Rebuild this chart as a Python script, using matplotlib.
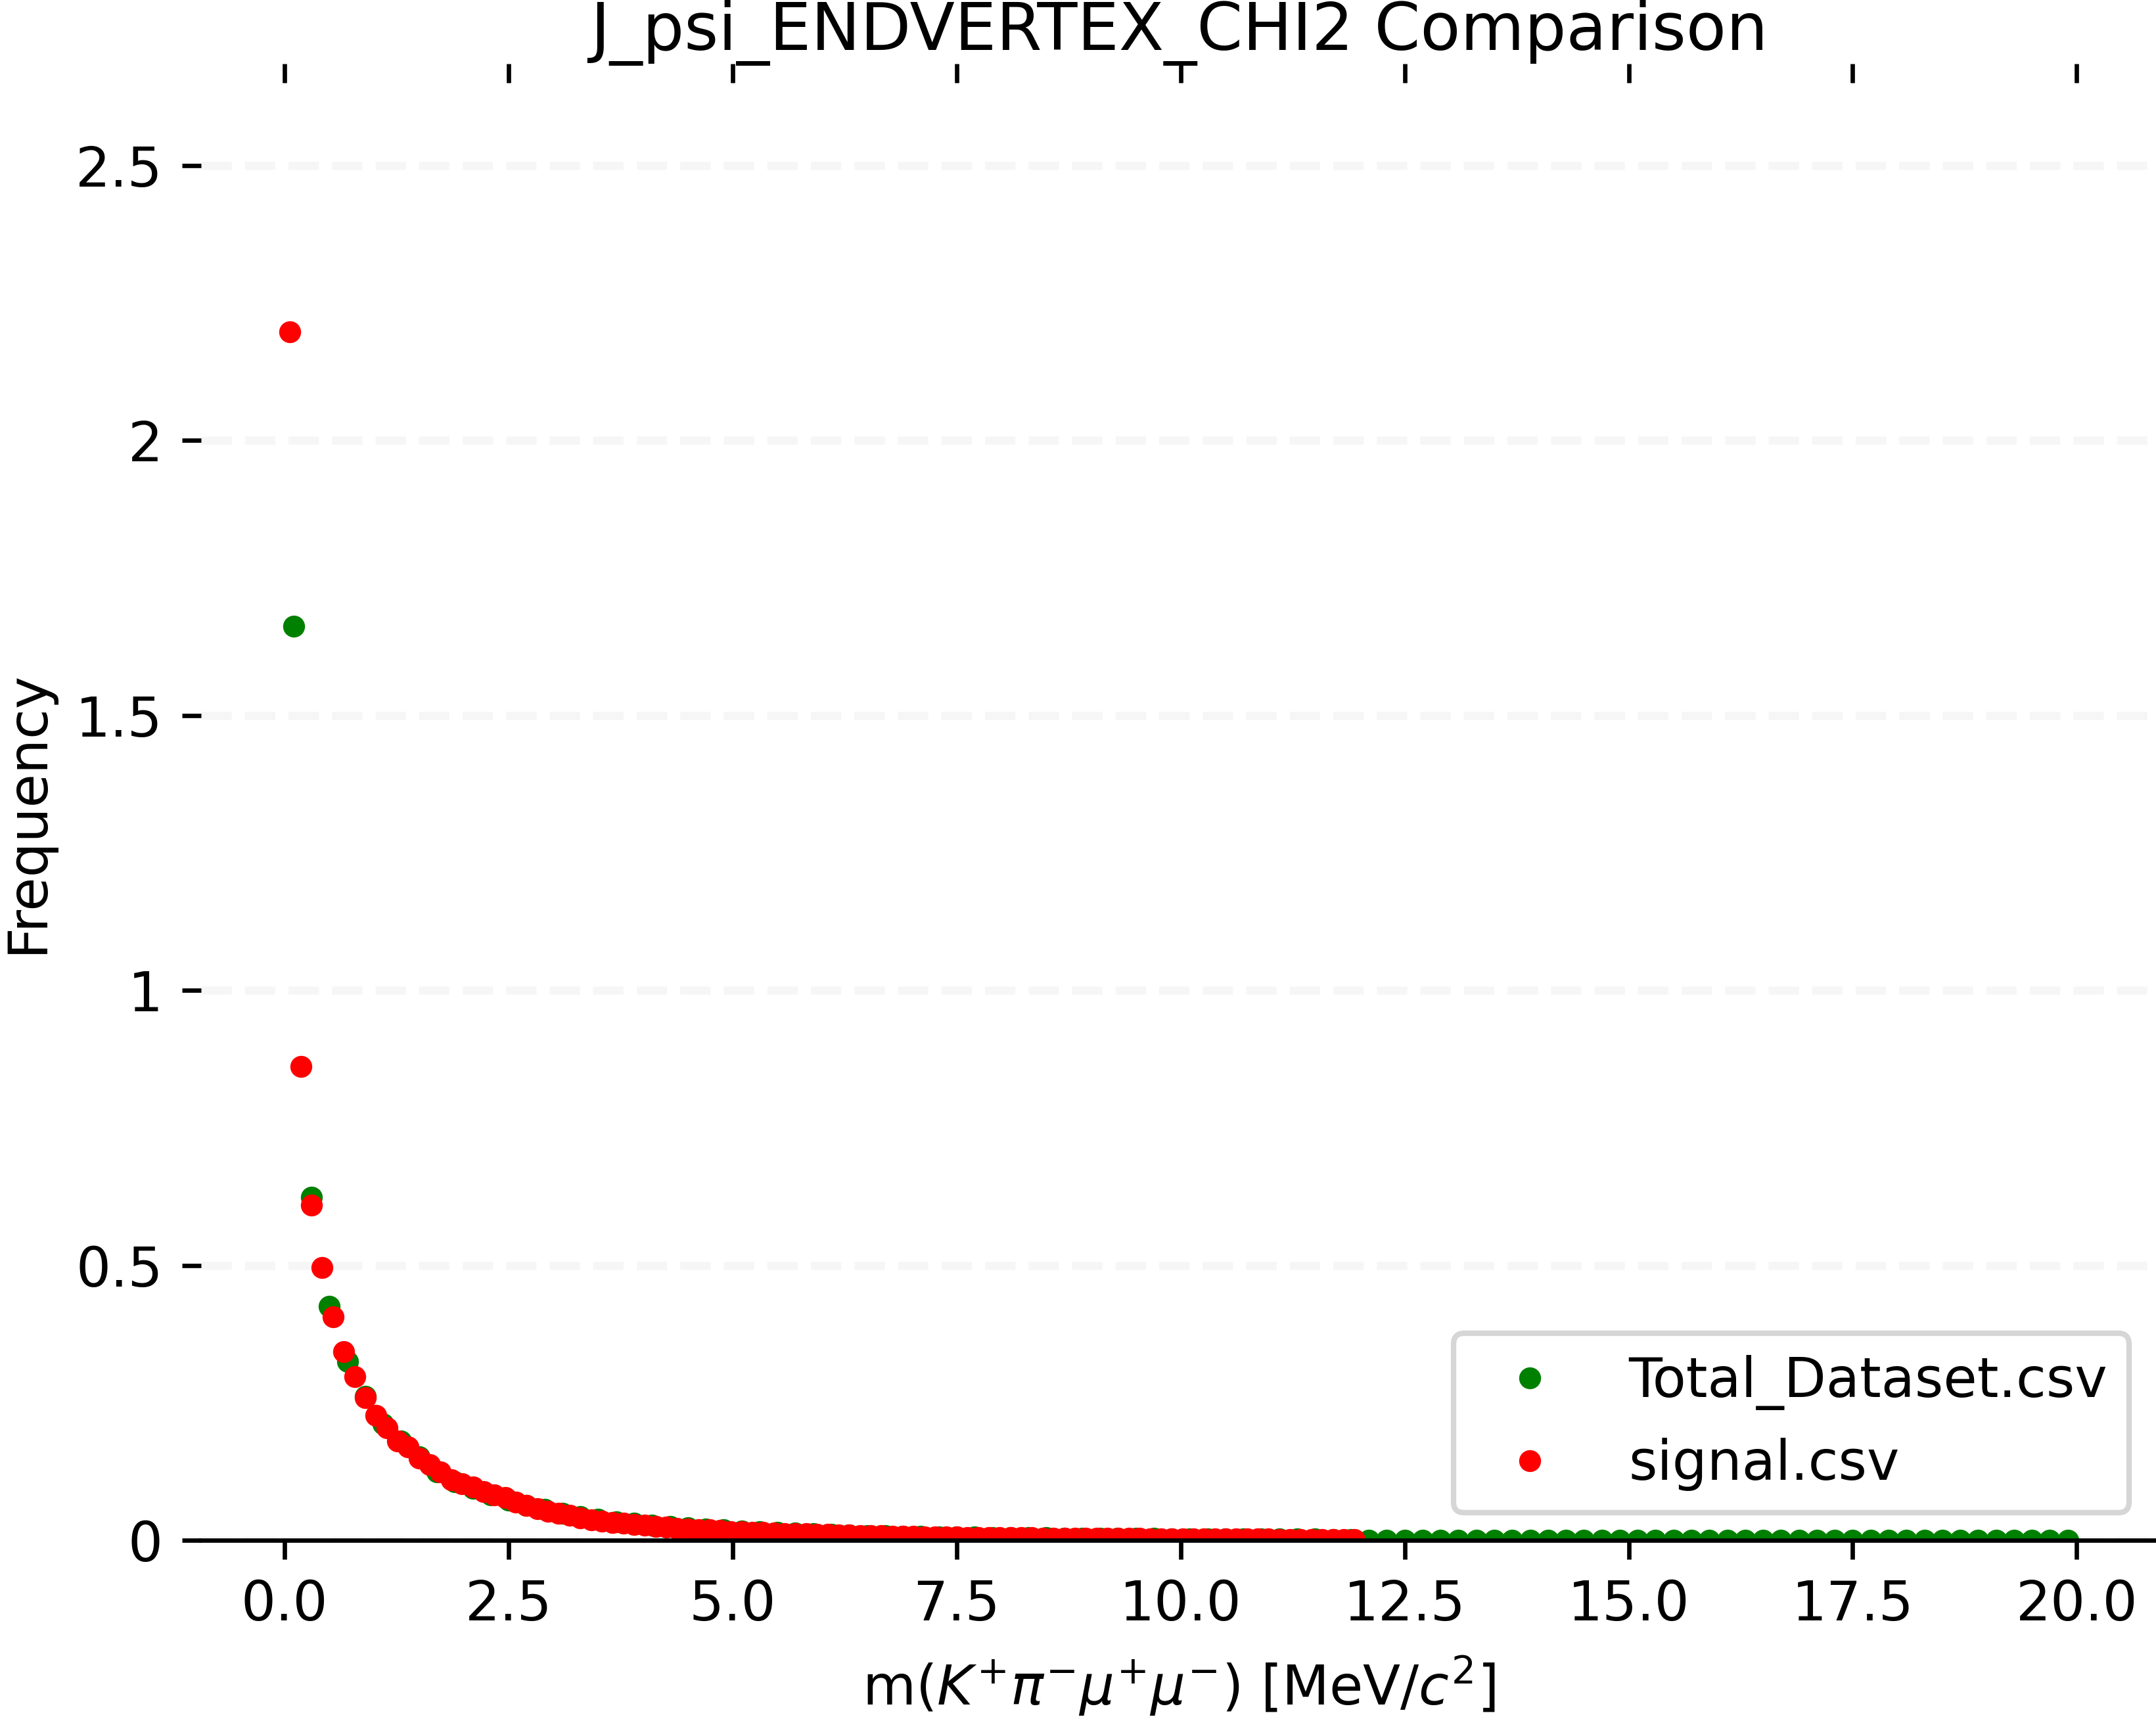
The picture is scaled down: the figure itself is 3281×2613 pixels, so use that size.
import numpy as np
import matplotlib
matplotlib.use("Agg")
import matplotlib.pyplot as plt
from matplotlib.ticker import FormatStrFormatter

# density histograms, 100 bins each
total_label = "Total_Dataset.csv"
total_range = (0.0, 20.0)
total_density = [
    1.662, 0.624, 0.425, 0.325, 0.262, 0.212, 0.180, 0.152, 0.124, 0.106,
    0.094, 0.083, 0.073, 0.064, 0.056, 0.049, 0.043, 0.038, 0.034, 0.031,
    0.028, 0.025, 0.023, 0.021, 0.019, 0.017, 0.0155, 0.014, 0.0128, 0.0117,
    0.0107, 0.0098, 0.0090, 0.0083, 0.0077, 0.0071, 0.0066, 0.0062, 0.0058, 0.0054,
    0.0051, 0.0048, 0.0045, 0.0043, 0.0041, 0.0039, 0.0037, 0.0035, 0.0033, 0.0031,
    0.0030, 0.0028, 0.0027, 0.0025, 0.0024, 0.0023, 0.0021, 0.0020, 0.0019, 0.0017,
    0.0005, 0.0004, 0.0004, 0.0004, 0.0004, 0.0003, 0.0004, 0.0003, 0.0003, 0.0003,
    0.0003, 0.0003, 0.0003, 0.0002, 0.0003, 0.0002, 0.0002, 0.0002, 0.0002, 0.0002,
    0.0002, 0.0002, 0.0002, 0.0002, 0.0001, 0.0002, 0.0001, 0.0001, 0.0001, 0.0001,
    0.0001, 0.0001, 0.0001, 0.0001, 0.0001, 0.0001, 0.0001, 0.0001, 0.0001, 0.0001,
]

signal_label = "signal.csv"
signal_range = (0.0, 12.0)
signal_density = [
    2.197, 0.862, 0.609, 0.496, 0.406, 0.343, 0.298, 0.260, 0.227, 0.205,
    0.181, 0.170, 0.150, 0.138, 0.125, 0.110, 0.103, 0.097, 0.088, 0.082,
    0.078, 0.069, 0.064, 0.058, 0.053, 0.049, 0.045, 0.041, 0.037, 0.035,
    0.033, 0.031, 0.029, 0.028, 0.025, 0.024, 0.022, 0.021, 0.0195, 0.0187,
    0.0175, 0.0160, 0.0155, 0.0150, 0.0140, 0.0135, 0.0125, 0.0120, 0.0115, 0.0110,
    0.0105, 0.0098, 0.0092, 0.0088, 0.0085, 0.0080, 0.0076, 0.0072, 0.0070, 0.0066,
    0.0063, 0.0060, 0.0058, 0.0055, 0.0053, 0.0051, 0.0049, 0.0047, 0.0046, 0.0044,
    0.0042, 0.0041, 0.0040, 0.0038, 0.0037, 0.0036, 0.0035, 0.0034, 0.0033, 0.0032,
    0.0031, 0.0030, 0.0029, 0.0028, 0.0027, 0.0026, 0.0025, 0.0024, 0.0023, 0.0022,
    0.0021, 0.0020, 0.0019, 0.0018, 0.0017, 0.0016, 0.0015, 0.0014, 0.0012, 0.0010,
]


def bin_centres(rng, n):
    edges = np.linspace(rng[0], rng[1], n + 1)
    return 0.5 * (edges[1:] + edges[:-1])


fig = plt.figure(figsize=(3281 / 600, 2613 / 600), dpi=600)
ax = fig.add_axes([0.0933, 0.1029, 0.907, 0.8488])

ax.plot(bin_centres(total_range, len(total_density)), total_density, "o",
        color="green", ms=4, mew=0, label=total_label)
ax.plot(bin_centres(signal_range, len(signal_density)), signal_density, "o",
        color="red", ms=4, mew=0, label=signal_label)

ax.set_ylim(0, 2.65)
ax.set_yticks([0, 0.5, 1, 1.5, 2, 2.5])
ax.yaxis.set_major_formatter(FormatStrFormatter("%g"))
ax.grid(axis="y", linestyle="--", linewidth=1.5, color="gray", alpha=0.07)
ax.set_axisbelow(True)

for side in ["top", "right", "left"]:
    ax.spines[side].set_visible(False)
ax.tick_params(axis="x", top=True, labeltop=False)

ax.set_title("J_psi_ENDVERTEX_CHI2 Comparison")
ax.set_xlabel(r"m($K^{+}\pi^{-}\mu^{+}\mu^{-}$) [MeV/$c^{2}$]")
ax.set_ylabel("Frequency")
ax.legend(loc="lower right")

fig.savefig("out.png", dpi=600)
